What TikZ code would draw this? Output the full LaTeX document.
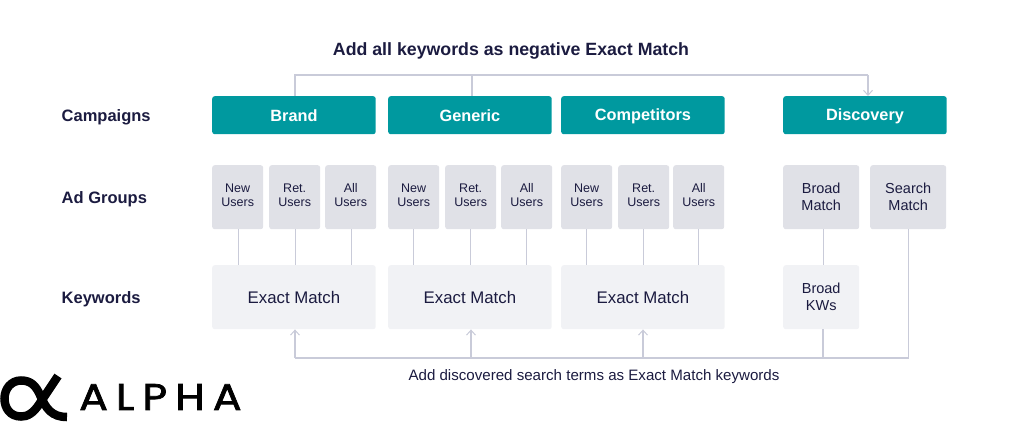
\documentclass[tikz,border=0pt]{standalone}
\usepackage{fontspec}
\setmainfont{Liberation Sans}
\newfontfamily\logofont[LetterSpace=22,FakeBold=2,FakeStretch=1.15]{Poppins}
\usetikzlibrary{arrows.meta}
\definecolor{teal}{HTML}{00999F}
\definecolor{adgrey}{HTML}{E0E1E7}
\definecolor{kwgrey}{HTML}{F1F2F5}
\definecolor{linec}{HTML}{C9CBD9}
\definecolor{ink}{HTML}{1B1B40}
\tikzset{
 box/.style={anchor=north west,rounded corners=2.5pt,inner sep=0pt,align=center,text=ink},
 camp/.style={box,fill=teal,minimum width=163.5pt,minimum height=38pt,text=white,font=\fontsize{16.3}{18}\selectfont\bfseries},
 adg/.style={box,fill=adgrey,minimum width=51pt,minimum height=64pt,font=\fontsize{12.5}{14.5}\selectfont},
 adw/.style={box,fill=adgrey,minimum width=76pt,minimum height=64pt,font=\fontsize{14.5}{17}\selectfont},
 kw/.style={box,fill=kwgrey,minimum width=163.5pt,minimum height=64pt,font=\fontsize{16.8}{19}\selectfont},
 kwn/.style={box,fill=kwgrey,minimum width=76pt,minimum height=64pt,font=\fontsize{14.5}{17}\selectfont},
 rowlab/.style={anchor=west,inner sep=0pt,text=ink,font=\fontsize{16.5}{19}\selectfont\bfseries},
 conn/.style={draw=linec,line width=1.3pt},
 arr/.style={conn,-{Straight Barb[length=5pt,width=9pt,line width=1pt]}},
}
\newcommand{\liftby}[2]{\raisebox{#1}[\height][\depth]{#2}}
\begin{document}
\begin{tikzpicture}[x=1pt,y=-1pt]
\useasboundingbox (0,0) rectangle (1024,444);
\node[anchor=center,inner sep=0pt,text=ink,font=\fontsize{17.75}{20}\selectfont\bfseries] (title) at (511,50.5) {Add all keywords as negative Exact Match};
\node[rowlab] (lc) at (61.5,117) {Campaigns};
\node[rowlab] (la) at (61.5,199) {Ad Groups};
\node[rowlab] (lk) at (61.5,299) {Keywords};
% campaigns
\node[camp] (brand) at (212,96) {\liftby{-0.5pt}{Brand}};
\node[camp] (generic) at (388,96) {\liftby{-0.5pt}{Generic}};
\node[camp] (comp) at (561,96) {\liftby{-1pt}{Competitors}};
\node[camp] (disc) at (783,96) {\liftby{-1pt}{Discovery}};
% ad groups
\foreach \n/\x/\t in {a1/212/New\\Users,a2/269/Ret.\\Users,a3/325/All\\Users,
 b1/388/New\\Users,b2/445/Ret.\\Users,b3/501/All\\Users,
 c1/561/New\\Users,c2/618/Ret.\\Users,c3/673/All\\Users}
 \node[adg] (\n) at (\x,165) {\liftby{2pt}{\parbox{51pt}{\centering\t}}};
\node[adw] (bm) at (783,165) {Broad\\Match};
\node[adw] (sm) at (870,165) {Search\\Match};
% keywords
\node[kw] (ka) at (212,265) {Exact Match};
\node[kw] (kb) at (388,265) {Exact Match};
\node[kw] (kc) at (561,265) {Exact Match};
\node[kwn] (kd) at (783,265) {Broad\\KWs};
% vertical links
\foreach \a/\k in {a1/ka,a2/ka,a3/ka}
 \draw[conn] ([xshift=1pt]\a.south) -- ([xshift=1pt]\a.south |- \k.north);
\foreach \a/\k in {b1/kb,b2/kb,b3/kb,c1/kc,c2/kc,c3/kc}
 \draw[conn] (\a.south) -- (\a.south |- \k.north);
\draw[conn] ([xshift=2pt]bm.south) -- ([xshift=2pt]bm.south |- kd.north);
% top bus
\coordinate (t1) at (295,75);
\coordinate (t2) at (472,75);
\coordinate (t3) at (868,75);
\draw[conn] (t1 |- brand.north) -- (t1) -- (t3);
\draw[conn] (t2) -- (t2 |- generic.north);
\draw[arr] (t3) -- (t3 |- disc.north);
% bottom bus
\coordinate (r1) at (295,358);
\coordinate (r2) at (471,358);
\coordinate (r3) at (643,358);
\coordinate (r4) at (823,358);
\coordinate (r5) at (908.5,358);
\draw[conn] (sm.south -| r5) -- (r5) -- (r1);
\draw[conn] (kd.south -| r4) -- (r4);
\draw[arr] (r1) -- (r1 |- ka.south);
\draw[arr] (r2) -- (r2 |- kb.south);
\draw[arr] (r3) -- (r3 |- kc.south);
\node[anchor=center,inner sep=0pt,text=ink,font=\fontsize{15.1}{17}\selectfont] (note) at (594,377) {Add discovered search terms as Exact Match keywords};
% logo
\draw[black,line width=8.5pt,line cap=butt] (58,376) -- (40,403) .. controls (33,414) and (27,416.5) .. (21,416.5) .. controls (10,416.5) and (4.5,408) .. (4.5,398.5) .. controls (4.5,389) and (11,380.5) .. (21,380.5) .. controls (31,380.5) and (36,386) .. (40,395) .. controls (46,409) and (52,417) .. (67,417);
\node[anchor=west,inner sep=0pt,text=black,font=\logofont\fontsize{37}{40}\selectfont] (alpha) at (79,397) {ALPHA};
\end{tikzpicture}
\end{document}
